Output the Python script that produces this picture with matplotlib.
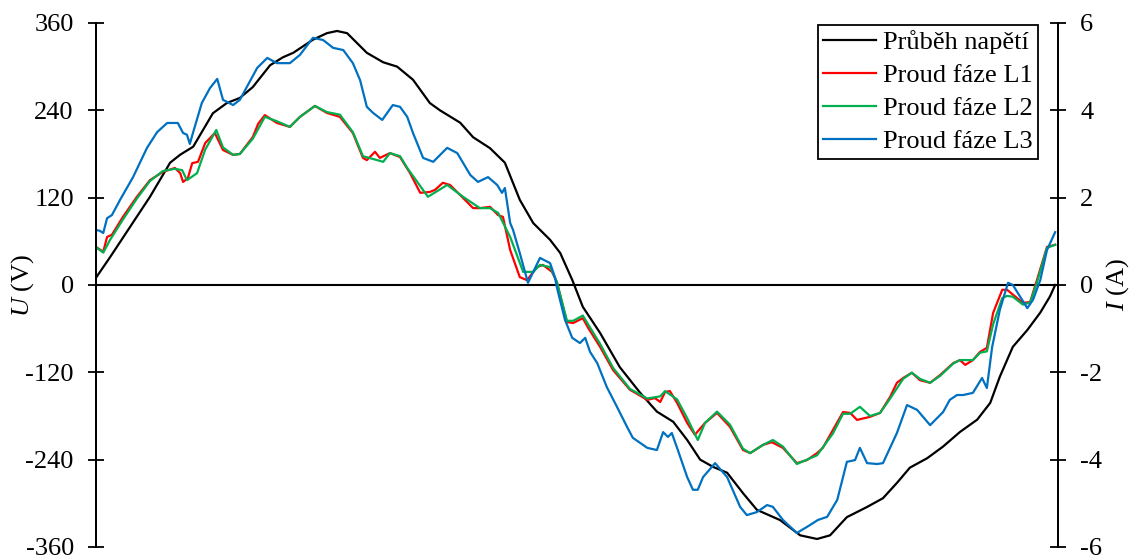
import matplotlib.pyplot as plt

plt.rcParams['font.family'] = 'Liberation Serif'
plt.rcParams['mathtext.fontset'] = 'custom'
plt.rcParams['mathtext.rm'] = 'Liberation Serif'
plt.rcParams['mathtext.it'] = 'Liberation Serif:italic'
plt.rcParams['axes.unicode_minus'] = False

# napětí (V), čas v ms
t_u = [0.00, 0.29, 0.71, 1.12, 1.54, 1.75, 2.02, 2.43, 2.72, 2.99, 3.26, 3.62,
       3.89, 4.10, 4.51, 4.80, 5.01, 5.22, 5.63, 5.97, 6.26, 6.59, 6.94, 7.15,
       7.57, 7.84, 8.19, 8.50, 8.81, 9.09, 9.44, 9.65, 9.90, 10.12, 10.48,
       10.89, 11.31, 11.66, 12.00, 12.29, 12.56, 12.83, 13.12, 13.45, 13.74,
       14.22, 14.64, 14.99, 15.26, 15.61, 16.03, 16.36, 16.65, 16.92, 17.28,
       17.61, 17.96, 18.32, 18.59, 18.79, 19.06, 19.36, 19.63, 19.83, 19.94]
u = [10, 38, 80, 121, 168, 179, 190, 236, 250, 257, 272, 302,
     313, 319, 337, 346, 349, 346, 319, 306, 300, 282, 250, 240,
     223, 203, 188, 168, 117, 85, 62, 44, 7, -30, -66,
     -113, -148, -174, -188, -213, -240, -250, -258, -286, -309,
     -323, -344, -349, -344, -319, -305, -293, -272, -251, -238,
     -222, -202, -185, -162, -126, -85, -62, -38, -16, 0]

# proud fáze L1 (A)
t_l1 = [0.00, 0.15, 0.23, 0.33, 0.56, 0.85, 1.12, 1.39, 1.64, 1.75, 1.81, 1.91,
        2.00, 2.12, 2.27, 2.47, 2.64, 2.85, 2.99, 3.26, 3.37, 3.51, 3.76, 4.03,
        4.24, 4.55, 4.80, 5.07, 5.34, 5.55, 5.63, 5.80, 5.90, 6.11, 6.32, 6.53,
        6.74, 6.94, 7.05, 7.21, 7.36, 7.57, 7.84, 7.98, 8.19, 8.36, 8.46, 8.61,
        8.81, 8.96, 9.17, 9.29, 9.48, 9.58, 9.79, 9.92, 10.12, 10.23, 10.48,
        10.75, 11.10, 11.46, 11.62, 11.73, 11.83, 11.93, 12.08, 12.29, 12.45,
        12.66, 12.91, 13.18, 13.45, 13.60, 13.87, 14.05, 14.28, 14.57, 14.78,
        14.99, 15.11, 15.32, 15.53, 15.68, 15.82, 16.09, 16.30, 16.51, 16.65,
        16.78, 16.96, 17.13, 17.34, 17.55, 17.82, 17.96, 18.07, 18.23, 18.38,
        18.52, 18.65, 18.84, 18.94, 19.27, 19.42, 19.56, 19.77, 19.94]
i_l1 = [0.87, 0.76, 1.10, 1.15, 1.56, 2.02, 2.40, 2.59, 2.68, 2.56, 2.36, 2.45,
        2.79, 2.82, 3.25, 3.48, 3.09, 2.98, 3.00, 3.39, 3.69, 3.89, 3.71, 3.62,
        3.85, 4.10, 3.94, 3.85, 3.48, 2.91, 2.86, 3.05, 2.91, 3.02, 2.93, 2.56,
        2.11, 2.13, 2.18, 2.34, 2.29, 2.06, 1.76, 1.76, 1.79, 1.60, 1.56, 0.80,
        0.18, 0.11, 0.41, 0.46, 0.30, 0.07, -0.85, -0.87, -0.76, -0.98, -1.42,
        -1.95, -2.40, -2.63, -2.59, -2.68, -2.45, -2.43, -2.70, -3.16, -3.43,
        -3.16, -2.93, -3.25, -3.78, -3.85, -3.66, -3.60, -3.73, -4.08, -4.01,
        -3.85, -3.73, -3.32, -2.91, -2.93, -3.09, -3.02, -2.93, -2.56, -2.24,
        -2.13, -2.01, -2.18, -2.24, -2.06, -1.79, -1.72, -1.83, -1.72, -1.53,
        -1.44, -0.64, -0.11, -0.11, -0.41, -0.39, 0.11, 0.87, 0.92]

# proud fáze L2 (A)
t_l2 = [0.00, 0.15, 0.29, 0.56, 0.85, 1.12, 1.39, 1.64, 1.79, 1.89, 2.10, 2.27,
        2.50, 2.64, 2.85, 2.99, 3.26, 3.51, 3.76, 4.03, 4.24, 4.55, 4.80, 5.07,
        5.34, 5.55, 5.97, 6.11, 6.32, 6.47, 6.90, 7.30, 7.63, 7.98, 8.19, 8.36,
        8.61, 8.88, 9.09, 9.23, 9.44, 9.58, 9.79, 9.92, 10.12, 10.23, 10.48,
        10.75, 11.10, 11.46, 11.62, 11.73, 11.83, 12.08, 12.29, 12.51, 12.66,
        12.91, 13.18, 13.45, 13.60, 13.87, 14.07, 14.28, 14.57, 14.78, 14.99,
        15.32, 15.53, 15.68, 15.88, 16.09, 16.30, 16.51, 16.78, 16.96, 17.13,
        17.34, 17.55, 17.82, 17.96, 18.23, 18.38, 18.52, 18.65, 18.84, 18.94,
        19.06, 19.27, 19.42, 19.56, 19.77, 19.94]
i_l2 = [0.87, 0.74, 1.03, 1.50, 1.98, 2.38, 2.61, 2.66, 2.63, 2.40, 2.56, 3.10,
        3.55, 3.15, 2.98, 3.00, 3.35, 3.85, 3.75, 3.62, 3.85, 4.10, 3.96, 3.90,
        3.50, 2.95, 2.82, 3.02, 2.95, 2.68, 2.02, 2.29, 2.02, 1.76, 1.76, 1.65,
        1.10, 0.30, 0.30, 0.46, 0.41, 0.07, -0.82, -0.82, -0.70, -0.90, -1.35,
        -1.90, -2.38, -2.60, -2.57, -2.55, -2.43, -2.62, -3.05, -3.55, -3.16,
        -2.90, -3.20, -3.75, -3.85, -3.66, -3.55, -3.70, -4.10, -4.00, -3.90,
        -3.40, -2.95, -2.95, -2.79, -3.00, -2.93, -2.60, -2.15, -2.01, -2.15,
        -2.24, -2.08, -1.80, -1.72, -1.72, -1.55, -1.52, -0.90, -0.30, -0.25,
        -0.27, -0.45, -0.40, 0.05, 0.85, 0.92]

# proud fáze L3 (A)
t_l3 = [0.00, 0.08, 0.15, 0.23, 0.33, 0.50, 0.77, 1.06, 1.27, 1.48, 1.70, 1.81,
        1.89, 1.95, 2.02, 2.20, 2.37, 2.52, 2.64, 2.85, 2.99, 3.35, 3.56, 3.76,
        4.03, 4.24, 4.51, 4.72, 4.93, 5.14, 5.34, 5.49, 5.63, 5.76, 5.95, 6.17,
        6.32, 6.47, 6.59, 6.80, 7.01, 7.30, 7.51, 7.78, 7.94, 8.15, 8.34, 8.44,
        8.50, 8.61, 8.67, 8.81, 8.98, 9.23, 9.44, 9.54, 9.58, 9.75, 9.90, 10.06,
        10.17, 10.27, 10.42, 10.62, 10.83, 11.04, 11.16, 11.46, 11.66, 11.79,
        11.89, 11.97, 12.08, 12.29, 12.41, 12.51, 12.62, 12.87, 13.12, 13.39,
        13.53, 13.74, 13.95, 14.07, 14.28, 14.57, 14.84, 15.01, 15.20, 15.41,
        15.61, 15.78, 15.88, 16.03, 16.24, 16.36, 16.65, 16.86, 17.07, 17.34,
        17.61, 17.75, 17.90, 18.03, 18.23, 18.42, 18.52, 18.63, 18.79, 18.96,
        19.06, 19.36, 19.48, 19.63, 19.77, 19.94]
i_l3 = [1.26, 1.24, 1.19, 1.53, 1.60, 1.95, 2.47, 3.14, 3.50, 3.71, 3.71, 3.48,
        3.44, 3.23, 3.50, 4.17, 4.51, 4.72, 4.24, 4.12, 4.24, 4.97, 5.20, 5.08,
        5.08, 5.27, 5.66, 5.61, 5.43, 5.38, 5.08, 4.69, 4.08, 3.94, 3.78, 4.12,
        4.08, 3.85, 3.48, 2.91, 2.82, 3.14, 3.02, 2.52, 2.36, 2.47, 2.29, 2.11,
        2.22, 1.42, 1.26, 0.73, 0.05, 0.62, 0.50, 0.18, -0.05, -0.80, -1.21, -1.33,
        -1.21, -1.53, -1.79, -2.34, -2.79, -3.25, -3.50, -3.73, -3.78, -3.37,
        -3.48, -3.39, -3.73, -4.40, -4.69, -4.69, -4.40, -4.08, -4.40, -5.08,
        -5.27, -5.20, -5.04, -5.08, -5.38, -5.68, -5.50, -5.38, -5.31, -4.92,
        -4.05, -4.01, -3.73, -4.08, -4.10, -4.08, -3.39, -2.75, -2.86, -3.21,
        -2.91, -2.63, -2.52, -2.52, -2.47, -2.13, -2.36, -1.42, -0.57, 0.05,
        0.00, -0.53, -0.34, 0.11, 0.80, 1.21]

fig = plt.figure(figsize=(11.35, 5.59), dpi=100)
ax = fig.add_axes([0.0846, 0.0215, 0.8476, 0.9374])
ax2 = ax.twinx()

ax.axhline(0, color='black', lw=1.5, zorder=1)
l0, = ax.plot(t_u, u, color='black', lw=1.6, label='Průběh napětí')
l1, = ax2.plot(t_l1, i_l1, color='#FF0000', lw=1.6, label='Proud fáze L1')
l2, = ax2.plot(t_l2, i_l2, color='#00B050', lw=1.6, label='Proud fáze L2')
l3, = ax2.plot(t_l3, i_l3, color='#0070C0', lw=1.6, label='Proud fáze L3')

ax.set_xlim(0, 20)
ax.set_ylim(-360, 360)
ax2.set_ylim(-6, 6)
ax.set_xticks([])
ax.set_yticks(range(-360, 361, 120))
ax2.set_yticks(range(-6, 7, 2))

for a in (ax, ax2):
    a.spines['top'].set_visible(False)
    a.spines['bottom'].set_visible(False)
    a.spines['left'].set_linewidth(1.3)
    a.spines['right'].set_linewidth(1.3)
    a.tick_params(axis='y', direction='inout', length=11, width=1.3,
                  labelsize=19, pad=10.5)

ax.set_ylabel(r'$\mathit{U}$ (V)', fontsize=19)
ax.yaxis.set_label_coords(-0.062, 0.5)
ax2.set_ylabel(r'$\mathit{I}$ (A)', fontsize=19)
ax2.yaxis.set_label_coords(1.048, 0.5)

leg = ax2.legend(handles=[l0, l1, l2, l3], loc='upper right',
                 bbox_to_anchor=(0.979, 0.996), borderaxespad=0,
                 fontsize=19, fancybox=False, framealpha=1,
                 edgecolor='black', handlelength=2.0, handletextpad=0.25,
                 labelspacing=0.36, borderpad=0.2)
leg.get_frame().set_linewidth(1.3)

fig.savefig('out.png', dpi=100)
